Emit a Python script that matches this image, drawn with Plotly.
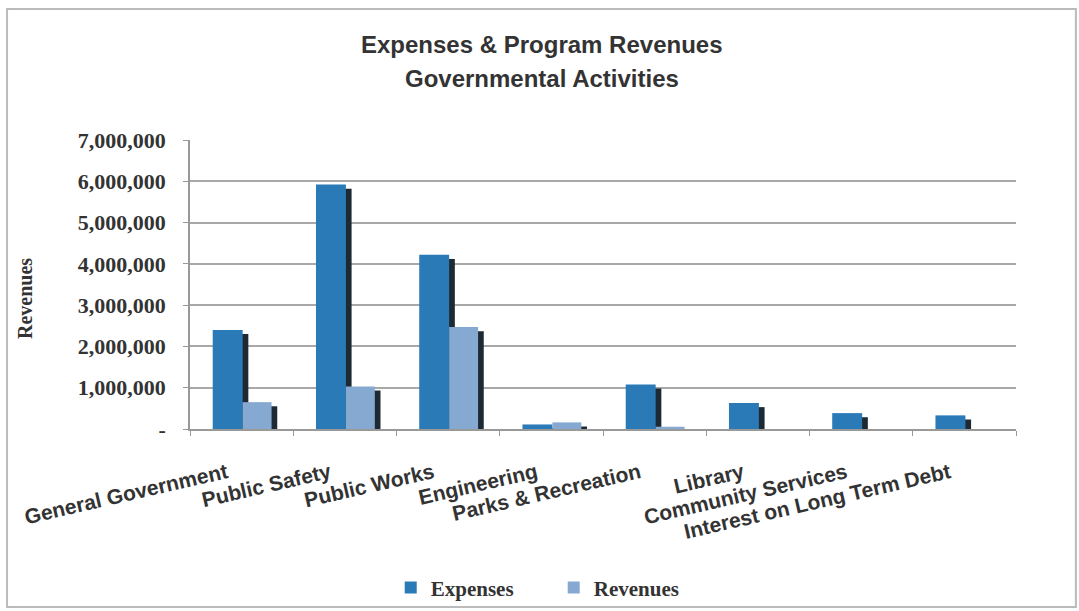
import plotly.graph_objects as go

# Governmental activities: expenses vs. program revenues
categories = [
    "General Government",
    "Public Safety",
    "Public Works",
    "Engineering",
    "Parks & Recreation",
    "Library",
    "Community Services",
    "Interest on Long Term Debt",
]
expenses = [2400000, 5920000, 4220000, 110000, 1080000, 630000, 385000, 330000]
revenues = [650000, 1030000, 2470000, 160000, 55000, 0, 0, 0]

y_tick_values = [0, 1000000, 2000000, 3000000, 4000000, 5000000, 6000000, 7000000]
y_tick_labels = ["-", "1,000,000", "2,000,000", "3,000,000", "4,000,000",
                 "5,000,000", "6,000,000", "7,000,000"]

title_lines = ["Expenses & Program Revenues", "Governmental Activities"]

EXP_COLOR = "#2A7AB8"
REV_COLOR = "#86A9D1"
SHADOW_COLOR = "#1E2A33"
SHADOW_DROP = 100000   # shadow top sits slightly below the bar top
SHADOW_SHIFT = 0.055   # shadow shifted right (category units)

EXP_OFFSET, EXP_WIDTH = -0.28, 0.29
REV_OFFSET, REV_WIDTH = 0.01, 0.28

def shadow(vals):
    return [max(v - SHADOW_DROP, 0) for v in vals]

fig = go.Figure()

fig.add_trace(go.Bar(
    x=categories, y=shadow(expenses), offset=EXP_OFFSET + SHADOW_SHIFT, width=EXP_WIDTH,
    marker=dict(color=SHADOW_COLOR, line=dict(width=0)),
    showlegend=False, hoverinfo="skip",
))
fig.add_trace(go.Bar(
    x=categories, y=expenses, name="Expenses", offset=EXP_OFFSET, width=EXP_WIDTH,
    marker=dict(color=EXP_COLOR, line=dict(width=0)),
))
fig.add_trace(go.Bar(
    x=categories, y=shadow(revenues), offset=REV_OFFSET + SHADOW_SHIFT, width=REV_WIDTH,
    marker=dict(color=SHADOW_COLOR, line=dict(width=0)),
    showlegend=False, hoverinfo="skip",
))
fig.add_trace(go.Bar(
    x=categories, y=revenues, name="Revenues", offset=REV_OFFSET, width=REV_WIDTH,
    marker=dict(color=REV_COLOR, line=dict(width=0)),
))

title_font = dict(family="Liberation Sans", size=24, color="#333333", weight="bold")

fig.update_layout(
    width=1079, height=611,
    margin=dict(l=190, r=63, t=140, b=182, autoexpand=False),
    paper_bgcolor="white", plot_bgcolor="white",
    barmode="overlay",
    legend=dict(
        orientation="h", x=0.243, xanchor="left", y=-0.55, yanchor="middle",
        entrywidth=118, entrywidthmode="pixels",
        font=dict(family="Liberation Serif", size=21, color="#333333", weight="bold"),
        bgcolor="rgba(0,0,0,0)",
    ),
    xaxis=dict(
        type="category",
        tickangle=-13,
        tickson="boundaries",
        ticks="outside", ticklen=5, tickcolor="#999999",
        showline=True, linecolor="#999999", linewidth=1.5,
        showgrid=False,
        ticklabelstandoff=22,
        ticklabelshift=-15,
        tickfont=dict(family="Liberation Sans", size=21, color="#333333", weight="bold"),
    ),
    yaxis=dict(
        range=[0, 7000000],
        tickvals=y_tick_values, ticktext=y_tick_labels,
        ticks="outside", ticklen=5, tickcolor="#999999",
        showline=True, linecolor="#999999", linewidth=1.5,
        showgrid=True, gridcolor="#A8A8A8", gridwidth=1.5,
        zeroline=False,
        ticklabelstandoff=13,
        tickfont=dict(family="Liberation Serif", size=22, color="#333333", weight="bold"),
    ),
    annotations=[
        dict(text=title_lines[0], x=0.426, xref="paper", xanchor="center",
             y=1.329, yref="paper", yanchor="middle", showarrow=False, font=title_font),
        dict(text=title_lines[1], x=0.426, xref="paper", xanchor="center",
             y=1.2145, yref="paper", yanchor="middle", showarrow=False, font=title_font),
        dict(text="Revenues", textangle=-90,
             x=-0.1998, xref="paper", xanchor="center",
             y=0.453, yref="paper", yanchor="middle",
             showarrow=False,
             font=dict(family="Liberation Serif", size=20, color="#333333", weight="bold")),
    ],
    shapes=[dict(
        type="rect", xref="paper", yref="paper",
        x0=-0.2215, x1=1.0725, y0=-0.616, y1=1.453,
        line=dict(color="#BBBBBB", width=2), fillcolor="rgba(0,0,0,0)", layer="below",
    )],
)

fig.write_html("out.html")
